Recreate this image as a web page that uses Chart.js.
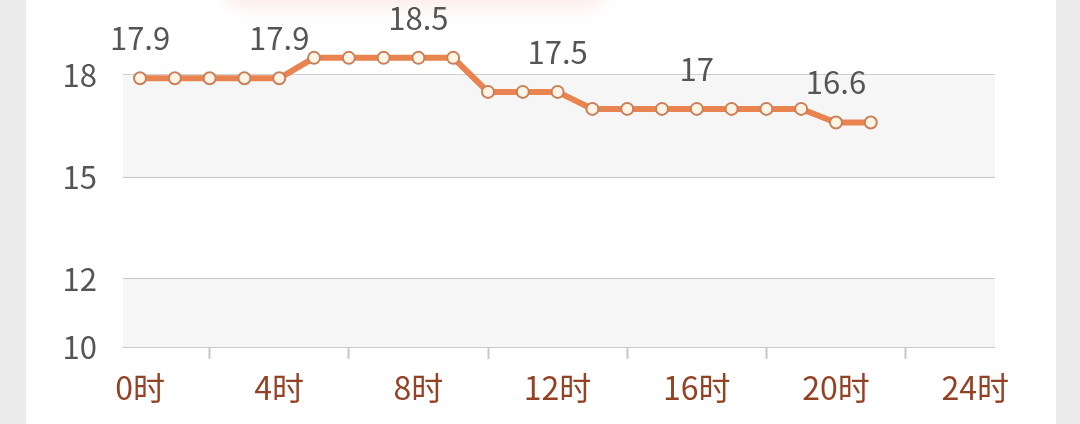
<!DOCTYPE html>
<html lang="zh">
<head>
    <meta charset="UTF-8">
    <title>逐时温度</title>
    <script src="https://cdn.jsdelivr.net/npm/chart.js"></script>
    <style>
        html, body { margin: 0; padding: 0; background: #fff; }
        .wrap { position: relative; width: 1080px; height: 424px; overflow: hidden; background: #fff; }
        .side { position: absolute; top: 0; bottom: 0; width: 26px; background: #ebebeb; }
        .side.l { left: 0; }
        .side.r { right: 0; width: 24px; }
        .glow { position: absolute; left: 225px; top: -18px; width: 380px; height: 24px;
                background: #f6c9c0; filter: blur(10px); opacity: .4; border-radius: 14px; }
        canvas { position: absolute; left: 0; top: 0; }
    </style>
</head>
<body>
<div class="wrap">
    <div class="side l"></div>
    <div class="side r"></div>
    <div class="glow"></div>
    <canvas id="grafico" width="1080" height="424"></canvas>
</div>

<script>
    // datos
    const horas = [0,1,2,3,4,5,6,7,8,9,10,11,12,13,14,15,16,17,18,19,20,21];
    const temperaturas = [17.9,17.9,17.9,17.9,17.9,18.5,18.5,18.5,18.5,18.5,17.5,17.5,17.5,17,17,17,17,17,17,17,16.6,16.6];
    const ticksY = [10, 12, 15, 18];
    const ticksX = [0, 2, 4, 6, 8, 10, 12, 14, 16, 18, 20, 22, 24];
    const franjas = [[15, 18], [10, 12]];

    const fuente = '"Noto Sans CJK SC", "Noto Sans", sans-serif';

    // franjas grises detras de la linea
    const pluginFranjas = {
        id: 'franjas',
        beforeDatasetsDraw(chart) {
            const { ctx, chartArea, scales } = chart;
            ctx.save();
            ctx.fillStyle = '#f6f6f6';
            franjas.forEach(([a, b]) => {
                const y1 = scales.y.getPixelForValue(b);
                const y2 = scales.y.getPixelForValue(a);
                ctx.fillRect(chartArea.left, y1, chartArea.right - chartArea.left, y2 - y1);
            });
            ctx.restore();
        }
    };

    // etiquetas cada 4 horas
    const pluginEtiquetas = {
        id: 'etiquetas',
        afterDatasetsDraw(chart) {
            const { ctx } = chart;
            const meta = chart.getDatasetMeta(0);
            ctx.save();
            ctx.font = '31px ' + fuente;
            ctx.fillStyle = '#555';
            ctx.textAlign = 'center';
            ctx.textBaseline = 'middle';
            meta.data.forEach((p, i) => {
                if (horas[i] % 4 !== 0) return;
                ctx.fillText(String(temperaturas[i]), p.x, p.y - 40);
            });
            ctx.restore();
        }
    };

    const ctx = document.getElementById('grafico').getContext('2d');
    new Chart(ctx, {
        type: 'line',
        data: {
            datasets: [{
                data: horas.map((h, i) => ({ x: h, y: temperaturas[i] })),
                borderColor: '#e9834f',
                borderWidth: 6,
                tension: 0,
                pointRadius: 6,
                pointBorderWidth: 2,
                pointBorderColor: '#c9805a',
                pointBackgroundColor: '#fff4e4',
                clip: false
            }]
        },
        options: {
            responsive: false,
            animation: false,
            events: [],
            layout: { padding: { top: 7, right: 85, left: 0, bottom: 0 } },
            plugins: { legend: { display: false }, tooltip: { enabled: false } },
            scales: {
                x: {
                    type: 'linear',
                    min: -0.49,
                    max: 24.57,
                    afterBuildTicks(scale) { scale.ticks = ticksX.map(v => ({ value: v })); },
                    afterFit(scale) { scale.height = 77; },
                    border: { display: false },
                    grid: {
                        drawOnChartArea: false,
                        drawTicks: true,
                        tickLength: 12,
                        tickWidth: 2,
                        tickColor: c => (c.tick && c.tick.value % 4 === 2) ? '#c8c8c8' : 'rgba(0,0,0,0)'
                    },
                    ticks: {
                        autoSkip: false,
                        maxRotation: 0,
                        padding: 10,
                        color: '#934225',
                        font: { size: 32, family: fuente },
                        callback: v => v % 4 === 0 ? v + '时' : ''
                    }
                },
                y: {
                    min: 10,
                    max: 18.89,
                    afterBuildTicks(scale) { scale.ticks = ticksY.map(v => ({ value: v })); },
                    afterFit(scale) { scale.width = 123; },
                    border: { display: false },
                    grid: { color: '#c8c8c8', lineWidth: 2, drawTicks: false },
                    ticks: {
                        padding: 26,
                        color: '#555',
                        font: { size: 31, family: fuente }
                    }
                }
            }
        },
        plugins: [pluginFranjas, pluginEtiquetas]
    });
</script>
</body>
</html>
